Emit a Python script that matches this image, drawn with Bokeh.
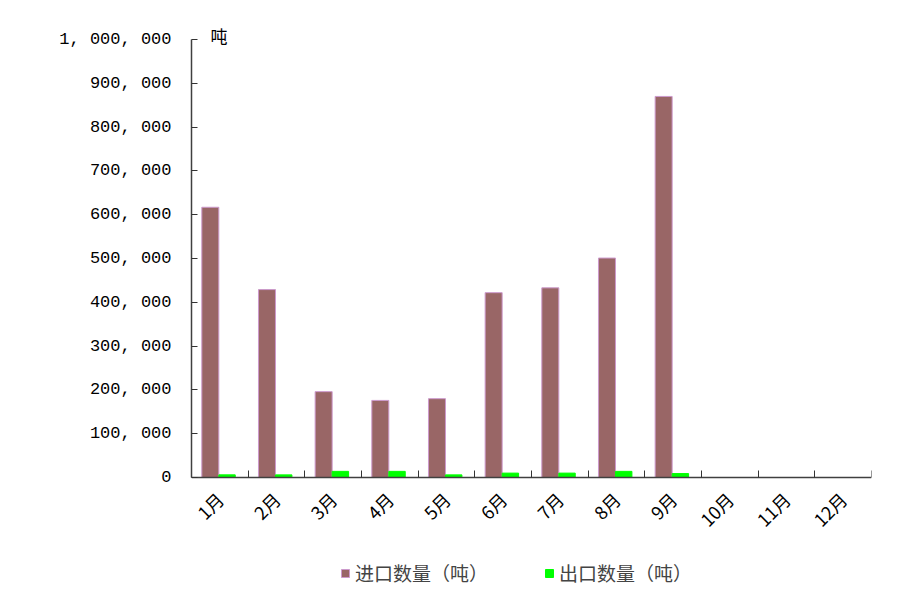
import numpy as np
from bokeh.plotting import figure
from bokeh.models import (ColumnDataSource, FixedTicker, Range1d, Legend, LegendItem)
from bokeh.embed import file_html
from bokeh.resources import INLINE

months = ["1月", "2月", "3月", "4月", "5月", "6月", "7月", "8月", "9月", "10月", "11月", "12月"]
imports = [617000, 429000, 196000, 176000, 180000, 422000, 433000, 501000, 870000]
exports = [6000, 6000, 14000, 14000, 6000, 10000, 10000, 14000, 9000]
y_ticks = [0, 100000, 200000, 300000, 400000, 500000, 600000, 700000, 800000, 900000, 1000000]
y_tick_labels = ["0", "100, 000", "200, 000", "300, 000", "400, 000", "500, 000",
                 "600, 000", "700, 000", "800, 000", "900, 000", "1, 000, 000"]
series_names = ["进口数量（吨）", "出口数量（吨）"]
unit_label = "吨"

CJK = "Noto Sans CJK SC"
NUM = "Liberation Mono"

Y_MAX = 1000000
# frame extends below zero so that axis labels and legend live inside the frame
Y_MIN = -Y_MAX * 118 / 438

p = figure(frame_width=680, frame_height=556, output_backend="svg", toolbar_location=None,
           x_range=Range1d(0, len(months)), y_range=Range1d(Y_MIN, Y_MAX),
           min_border_left=191, min_border_right=20, min_border_top=39, min_border_bottom=0)
p.outline_line_color = None
p.xgrid.visible = False
p.ygrid.visible = False
p.background_fill_color = "white"
p.border_fill_color = "white"

# unit label as a left-aligned title just above the frame
p.title.text = unit_label
p.title.align = "left"
p.title.offset = 19
p.title.text_font = CJK
p.title.text_font_size = "17px"
p.title.text_font_style = "normal"
p.title.text_color = "black"
p.title.standoff = -17

idx = np.arange(len(imports))
src = ColumnDataSource(dict(x_imp=idx + 0.332, x_exp=idx + 0.627, imp=imports, exp=exports))
r1 = p.vbar(x="x_imp", top="imp", width=0.3, source=src, fill_color="#996666",
            line_color="#CC99CC", line_width=1)
r2 = p.vbar(x="x_exp", top="exp", width=0.29, source=src, fill_color="#00FF00",
            line_color="#00FF00", line_width=1)

# x axis at y = 0: labels at category centers, ticks at category boundaries (minor ticks)
centers = [i + 0.5 for i in range(len(months))]
p.xaxis.fixed_location = 0
p.xaxis.ticker = FixedTicker(ticks=centers, minor_ticks=list(range(len(months) + 1)))
p.xaxis.major_label_overrides = {c: m for c, m in zip(centers, months)}
p.xaxis.major_tick_in = 0
p.xaxis.major_tick_out = 0
p.xaxis.minor_tick_in = 7
p.xaxis.minor_tick_out = 0
p.xaxis.minor_tick_line_color = "#333333"
p.xaxis.axis_line_color = "#404040"
p.xaxis.axis_line_width = 1.5
p.xaxis.major_label_orientation = np.pi / 4
p.xaxis.major_label_text_font = CJK
p.xaxis.major_label_text_font_size = "18px"
p.xaxis.major_label_text_color = "black"
p.xaxis.major_label_standoff = 18

# y axis
p.yaxis.bounds = (0, Y_MAX)
p.yaxis.ticker = FixedTicker(ticks=y_ticks, minor_ticks=[])
p.yaxis.major_label_overrides = {t: l for t, l in zip(y_ticks, y_tick_labels)}
p.yaxis.major_tick_in = 6
p.yaxis.major_tick_out = 0
p.yaxis.major_tick_line_color = "#333333"
p.yaxis.axis_line_color = "#404040"
p.yaxis.axis_line_width = 1.5
p.yaxis.major_label_text_font = NUM
p.yaxis.major_label_text_font_size = "17px"
p.yaxis.major_label_text_color = "black"
p.yaxis.major_label_standoff = 20

legend = Legend(items=[LegendItem(label=series_names[0], renderers=[r1]),
                       LegendItem(label=series_names[1], renderers=[r2])],
                orientation="horizontal", location=(149, 9))
legend.label_text_font = CJK
legend.label_text_font_size = "19px"
legend.glyph_width = 10
legend.glyph_height = 10
legend.label_standoff = 5
legend.label_height = 22
legend.spacing = 56
legend.padding = 0
legend.margin = 0
legend.border_line_color = None
legend.background_fill_alpha = 0
p.add_layout(legend, "center")

open("out.html", "w").write(file_html(p, INLINE))
